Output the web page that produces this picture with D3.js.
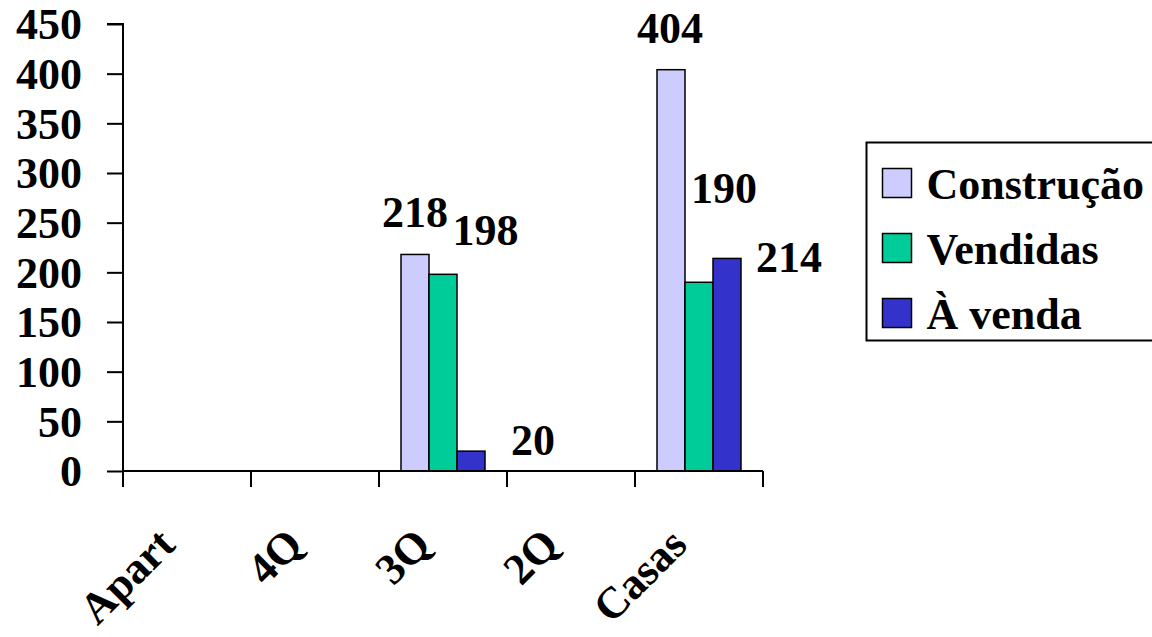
<!DOCTYPE html>
<html>
<head>
<meta charset="utf-8">
<script src="https://cdn.jsdelivr.net/npm/d3@7"></script>
<style>
  html, body { margin: 0; padding: 0; background: #fff; }
  svg { display: block; }
  text { font-family: "Liberation Serif", "Times New Roman", serif; font-weight: bold; fill: #000; }
</style>
</head>
<body>
<svg id="chart" width="1152" height="637"></svg>
<script>
// ---- data ----
const categories = ["Apart", "4Q", "3Q", "2Q", "Casas"];
const seriesNames = ["Construção", "Vendidas", "À venda"];
const construcao = [null, null, 218, null, 404];
const vendidas   = [null, null, 198, null, 190];
const aVenda     = [null, null, 20,  null, 214];
const yTicks = [0, 50, 100, 150, 200, 250, 300, 350, 400, 450];

// ---- layout / style ----
const colors = ["#CCCCFF", "#00CC99", "#3333CC"];
const fontSize = 44;
const plot = { left: 123, right: 763, top: 24, bottom: 471 };
// manual label nudges (px from bar-top centre), as placed in the original
const labelNudge = {
  "Construção": { "3Q": [0, -27.5], "Casas": [-1, -27] },
  "Vendidas":   { "3Q": [42.5, -29], "Casas": [25, -79] },
  "À venda":    { "3Q": [62, 4],     "Casas": [62, 13.6] }
};

const seriesValues = [construcao, vendidas, aVenda];
const rows = [];
categories.forEach((c, i) => {
  seriesNames.forEach((s, j) => {
    const v = seriesValues[j][i];
    if (v !== null) rows.push({ cat: c, series: s, value: v, idx: j });
  });
});

const svg = d3.select("#chart");

const x0 = d3.scaleBand().domain(categories).range([plot.left, plot.right]).paddingInner(0).paddingOuter(0);
const x1 = d3.scaleBand().domain(seriesNames).range([0, x0.bandwidth()]).paddingInner(0).paddingOuter(0.786);
const y = d3.scaleLinear().domain([0, 450]).range([plot.bottom, plot.top]);

// bars
svg.append("g").selectAll("rect").data(rows).join("rect")
  .attr("x", d => x0(d.cat) + x1(d.series))
  .attr("y", d => y(d.value))
  .attr("width", x1.bandwidth())
  .attr("height", d => y(0) - y(d.value))
  .attr("fill", d => colors[d.idx])
  .attr("stroke", "#000")
  .attr("stroke-width", 1.5);

// y axis
const yAxis = d3.axisLeft(y).tickValues(yTicks).tickSize(16).tickPadding(25).tickFormat(d3.format("d"));
const gy = svg.append("g").attr("transform", `translate(${plot.left},0)`).call(yAxis);
gy.attr("font-family", null).attr("font-size", null);
gy.select(".domain").attr("stroke", "#000").attr("stroke-width", 2)
  .attr("d", `M-16,${plot.top}H0V${plot.bottom + 16}`);
gy.selectAll(".tick line").attr("stroke", "#000").attr("stroke-width", 2);
gy.selectAll(".tick text").attr("font-size", fontSize).attr("dy", "0.34em");

// x axis: ticks at band boundaries
const gx = svg.append("g").attr("transform", `translate(0,${plot.bottom})`);
gx.append("line").attr("x1", plot.left).attr("x2", plot.right).attr("y1", 0).attr("y2", 0)
  .attr("stroke", "#000").attr("stroke-width", 2);
const boundaries = categories.map(c => x0(c)).concat([x0(categories[categories.length - 1]) + x0.bandwidth()]);
gx.selectAll("line.tk").data(boundaries).join("line").attr("class", "tk")
  .attr("x1", d => d).attr("x2", d => d).attr("y1", 0).attr("y2", 16)
  .attr("stroke", "#000").attr("stroke-width", 2);
gx.selectAll("text").data(categories).join("text")
  .attr("font-size", fontSize)
  .attr("text-anchor", "end")
  .attr("transform", d => `translate(${x0(d) + x0.bandwidth() / 2 - 10},${76}) rotate(-45)`)
  .text(d => d);

// data labels
svg.append("g").selectAll("text").data(rows).join("text")
  .attr("font-size", fontSize)
  .attr("text-anchor", "middle")
  .attr("x", d => x0(d.cat) + x1(d.series) + x1.bandwidth() / 2 + labelNudge[d.series][d.cat][0])
  .attr("y", d => y(d.value) + labelNudge[d.series][d.cat][1])
  .text(d => d.value);

// legend
const lg = svg.append("g");
lg.append("rect").attr("x", 866.5).attr("y", 142.5).attr("width", 320).attr("height", 198)
  .attr("fill", "#fff").attr("stroke", "#000").attr("stroke-width", 2);
const item = lg.selectAll("g.item").data(seriesNames).join("g").attr("class", "item")
  .attr("transform", (d, i) => `translate(882.5,${168.5 + i * 65})`);
item.append("rect").attr("width", 29).attr("height", 29)
  .attr("fill", (d, i) => colors[i]).attr("stroke", "#000").attr("stroke-width", 1.5);
item.append("text").attr("x", 44).attr("y", 30).attr("font-size", 44).text(d => d);
</script>
</body>
</html>
